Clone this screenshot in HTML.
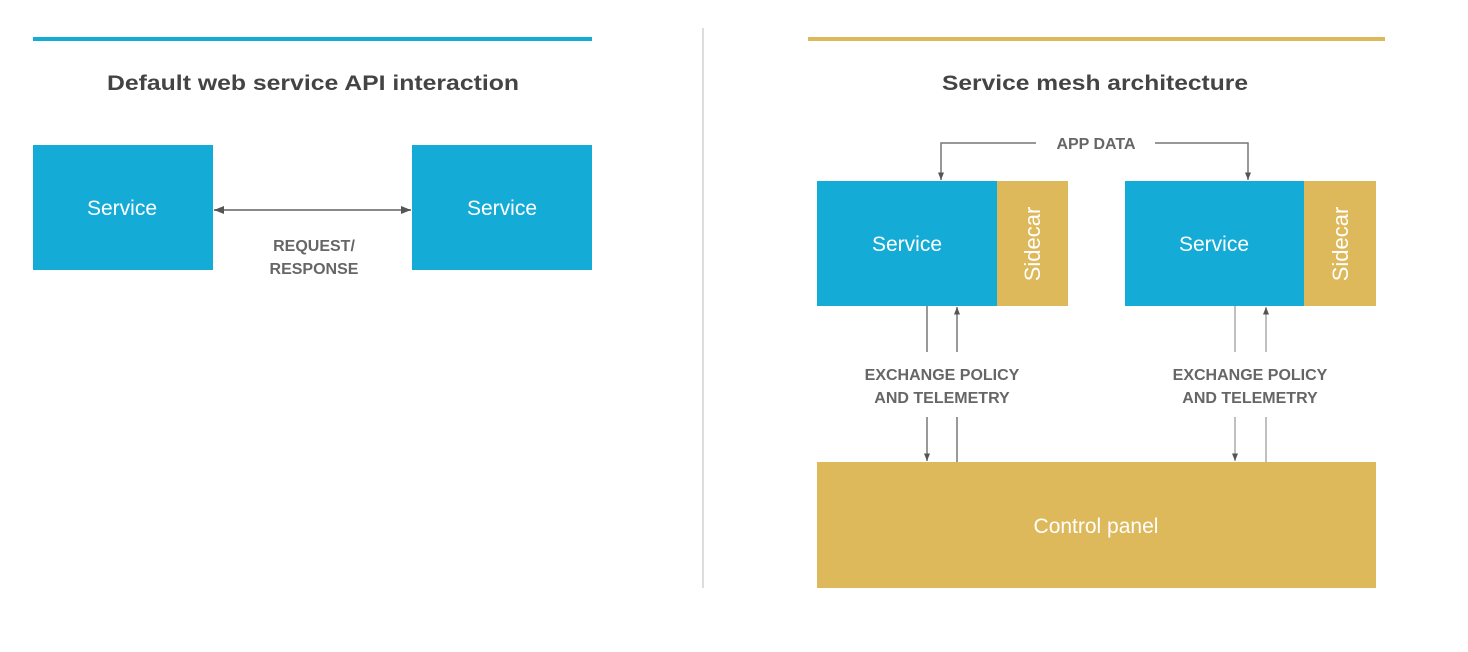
<!DOCTYPE html>
<html><head><meta charset="utf-8"><style>
html,body{margin:0;padding:0;background:#fff;}
svg{display:block;}
.t{font-family:"Liberation Sans",sans-serif;}
</style></head><body>
<svg width="1468" height="652" viewBox="0 0 1468 652" xmlns="http://www.w3.org/2000/svg">
<defs>
<marker id="a" viewBox="0 0 10 10" refX="10" refY="5" markerWidth="5" markerHeight="5" orient="auto-start-reverse"><path d="M0,1 L10,5 L0,9 z" fill="#555"/></marker>
</defs>
<rect x="33" y="37" width="559" height="4" fill="#14acd6"/>
<rect x="808" y="37" width="577" height="4" fill="#ddb95b"/>
<line x1="703" y1="28" x2="703" y2="588" stroke="#ddd" stroke-width="2"/>
<g class="t" font-weight="bold" fill="#444" font-size="21" text-anchor="middle">
<text x="313" y="90" textLength="412" lengthAdjust="spacingAndGlyphs">Default web service API interaction</text>
<text x="1095" y="90" textLength="306" lengthAdjust="spacingAndGlyphs">Service mesh architecture</text>
</g>
<rect x="33" y="145" width="180" height="125" fill="#14acd6"/>
<rect x="412" y="145" width="180" height="125" fill="#14acd6"/>
<line x1="214" y1="210" x2="411" y2="210" stroke="#888" stroke-width="2" marker-start="url(#a)" marker-end="url(#a)"/>
<rect x="817" y="181" width="180" height="125" fill="#14acd6"/>
<rect x="997" y="181" width="71" height="125" fill="#ddb95b"/>
<rect x="1125" y="181" width="179" height="125" fill="#14acd6"/>
<rect x="1304" y="181" width="72" height="125" fill="#ddb95b"/>
<rect x="817" y="462" width="559" height="126" fill="#ddb95b"/>
<g class="t" fill="#fff" font-size="21" text-anchor="middle">
<text x="122" y="215">Service</text>
<text x="502" y="215">Service</text>
<text x="907" y="251">Service</text>
<text x="1214" y="251">Service</text>
<text x="1096" y="533">Control panel</text>
</g>
<g class="t" fill="#fff" font-size="22" text-anchor="middle">
<text transform="translate(1040,244) rotate(-90)">Sidecar</text>
<text transform="translate(1348,244) rotate(-90)">Sidecar</text>
</g>
<g class="t" fill="#666" font-weight="bold" font-size="16" text-anchor="middle">
<text x="314" y="251">REQUEST/</text>
<text x="314" y="274">RESPONSE</text>
<text x="1096" y="149">APP DATA</text>
<text x="942" y="380">EXCHANGE POLICY</text>
<text x="942" y="403">AND TELEMETRY</text>
<text x="1250" y="380">EXCHANGE POLICY</text>
<text x="1250" y="403">AND TELEMETRY</text>
</g>
<g fill="none" stroke="#777" stroke-width="1.5">
<polyline points="1036,143 941,143 941,180" marker-end="url(#a)"/>
<polyline points="1155,143 1248,143 1248,180" marker-end="url(#a)"/>
<line x1="927" y1="306" x2="927" y2="352"/>
<line x1="927" y1="417" x2="927" y2="461" marker-end="url(#a)"/>
<line x1="957" y1="352" x2="957" y2="307" marker-end="url(#a)"/>
<line x1="957" y1="417" x2="957" y2="462"/>
<line x1="1235" y1="306" x2="1235" y2="352" stroke="#aaa"/>
<line x1="1235" y1="417" x2="1235" y2="461" stroke="#aaa" marker-end="url(#a)"/>
<line x1="1266" y1="352" x2="1266" y2="307" stroke="#aaa" marker-end="url(#a)"/>
<line x1="1266" y1="417" x2="1266" y2="462" stroke="#aaa"/>
</g>
</svg>
</body></html>
